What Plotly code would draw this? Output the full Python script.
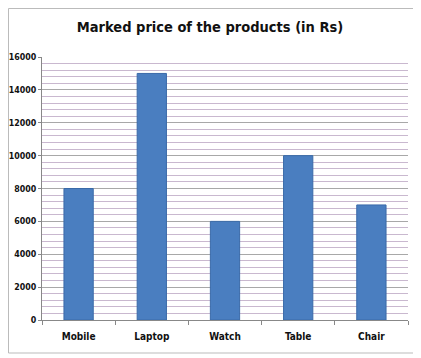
import plotly.graph_objects as go

categories = ["Mobile", "Laptop", "Watch", "Table", "Chair"]
prices = [8000, 15000, 6000, 10000, 7000]
y_ticks = [0, 2000, 4000, 6000, 8000, 10000, 12000, 14000, 16000]

FONT = "DejaVu Sans Condensed, Liberation Sans Narrow, Arial Narrow, sans-serif"

fig = go.Figure(go.Bar(
    x=categories, y=prices,
    marker=dict(color="#4A7EC0", line=dict(color="#3A6AA8", width=1)),
    width=0.4,
))

# page has an 8px body margin; figure is sized to fill the rest of the window
OFF = 8
W, H = 421 - OFF, 358 - OFF
L, R, T, B = 42 - OFF, 421 - 408, 57 - OFF, 358 - 320
pw, ph = W - L - R, H - T - B

fig.update_layout(
    width=W, height=H,
    margin=dict(l=L, r=R, t=T, b=B, autoexpand=False),
    paper_bgcolor="white", plot_bgcolor="white",
    showlegend=False,
    title=dict(text="<b>Marked price of the products (in Rs)</b>",
               x=(210 - OFF) / W, xanchor="center",
               y=1 - (27 - OFF) / H, yanchor="middle", automargin=False,
               font=dict(family=FONT, size=14.5, color="#111")),
    font=dict(family=FONT, size=10, color="#111"),
    shapes=[dict(type="rect", xref="paper", yref="paper",
                 x0=(0.5 - L) / pw, x1=(417 - OFF - L) / pw,
                 y0=(H - B - (353 - OFF)) / ph, y1=(H - B - 0.5) / ph,
                 line=dict(color="#BBBBBB", width=1))],
)

fig.update_yaxes(
    range=[0, 16000], tickvals=y_ticks, ticktext=[f"<b>{v}</b>" for v in y_ticks],
    automargin=False,
    showgrid=True, gridcolor="#A8A8A8", gridwidth=1,
    minor=dict(dtick=400, showgrid=True, gridcolor="#C9B8CF", gridwidth=1),
    showline=True, linecolor="#888888", ticks="outside", ticklen=3, tickcolor="#888888",
    tickfont=dict(size=8.8, family=FONT),
    zeroline=False,
)
fig.update_xaxes(
    automargin=False,
    ticktext=[f"<b>{c}</b>" for c in categories], tickvals=categories,
    showline=True, linecolor="#888888", ticks="outside", tickson="boundaries",
    ticklen=4, tickcolor="#888888", ticklabelstandoff=7,
    tickfont=dict(size=10, family=FONT),
    showgrid=False,
)

fig.write_html("out.html")
